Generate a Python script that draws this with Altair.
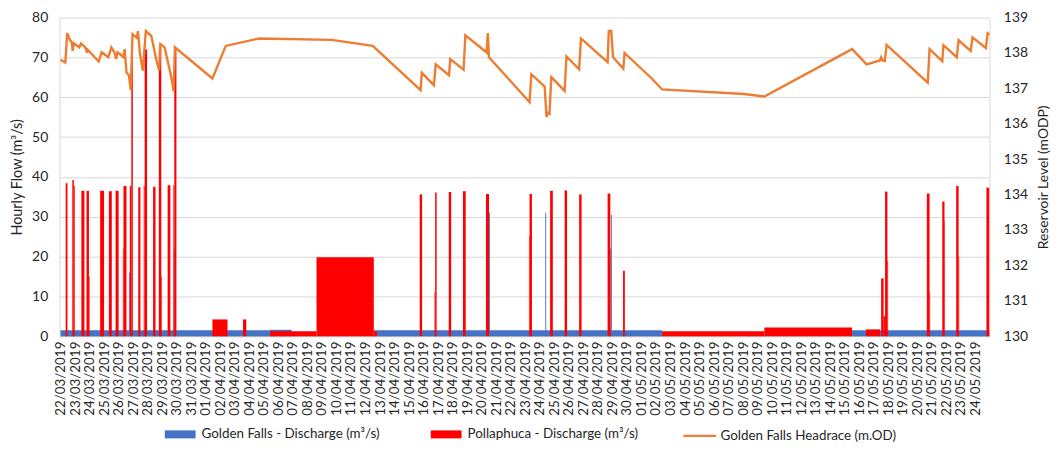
import altair as alt
import pandas as pd

GF = "Golden Falls  - Discharge (m³/s)"
PP = "Pollaphuca - Discharge  (m³/s)"
HR = "Golden Falls Headrace (m.OD)"

# Golden Falls discharge (hourly columns, grouped into constant runs)
gf_start = ["2019-03-22T00:00", "2019-04-05T10:00", "2019-04-12T13:40", "2019-05-15T12:00",
            "2019-03-26T17:00", "2019-03-27T09:30", "2019-03-29T19:00", "2019-04-20T12:00",
            "2019-04-24T09:00", "2019-04-28T21:30"]
gf_end = ["2019-04-05T10:00", "2019-04-06T22:00", "2019-05-02T10:00", "2019-05-24T23:00",
          "2019-03-26T18:30", "2019-03-27T11:00", "2019-03-29T20:30", "2019-04-20T13:30",
          "2019-04-24T10:30", "2019-04-28T23:00"]
gf_flow = [1.5, 1.6, 1.5, 1.5, 16, 25.8, 22, 31, 31, 30.4]

# Pollaphuca discharge (hourly columns, grouped into constant runs)
pp_start = ["2019-03-22T08:30", "2019-03-22T19:30", "2019-03-22T22:00", "2019-03-23T10:30",
            "2019-03-23T19:00", "2019-03-23T23:00", "2019-03-24T17:30", "2019-03-25T08:00",
            "2019-03-25T19:00", "2019-03-26T07:00", "2019-03-26T08:00", "2019-03-26T18:30",
            "2019-03-26T21:00", "2019-03-27T08:30", "2019-03-27T17:30", "2019-03-27T19:00",
            "2019-03-28T09:00", "2019-03-28T18:30", "2019-03-28T22:30", "2019-03-29T09:00",
            "2019-03-29T18:30", "2019-03-29T20:00",
            "2019-04-01T11:00", "2019-04-03T13:30", "2019-04-05T10:00", "2019-04-08T15:00",
            "2019-04-12T13:40",
            "2019-04-15T17:30", "2019-04-16T18:00", "2019-04-16T19:00", "2019-04-17T17:30",
            "2019-04-18T17:00", "2019-04-20T07:00", "2019-04-23T06:00", "2019-04-23T07:00",
            "2019-04-24T17:00", "2019-04-25T17:00", "2019-04-26T17:00", "2019-04-28T16:00",
            "2019-04-28T20:30", "2019-04-29T17:30",
            "2019-05-02T10:00", "2019-05-09T11:00", "2019-05-16T11:00", "2019-05-17T12:00",
            "2019-05-17T16:00", "2019-05-17T18:30", "2019-05-17T22:20", "2019-05-20T15:30",
            "2019-05-20T20:00", "2019-05-21T17:00", "2019-05-21T20:40", "2019-05-22T16:00",
            "2019-05-22T20:00", "2019-05-24T18:00"]
pp_end = ["2019-03-22T11:30", "2019-03-22T22:00", "2019-03-22T23:30", "2019-03-23T15:30",
          "2019-03-23T23:00", "2019-03-24T00:00", "2019-03-25T00:00", "2019-03-25T12:45",
          "2019-03-26T00:00", "2019-03-26T08:00", "2019-03-26T13:00", "2019-03-26T21:00",
          "2019-03-26T23:30", "2019-03-27T12:00", "2019-03-27T19:00", "2019-03-27T23:00",
          "2019-03-28T13:00", "2019-03-28T22:30", "2019-03-28T23:30", "2019-03-29T13:30",
          "2019-03-29T20:00", "2019-03-29T23:30",
          "2019-04-02T12:00", "2019-04-03T19:00", "2019-04-08T15:00", "2019-04-12T13:40",
          "2019-04-12T19:00",
          "2019-04-15T21:30", "2019-04-16T19:00", "2019-04-16T21:30", "2019-04-17T21:30",
          "2019-04-18T21:30", "2019-04-20T12:00", "2019-04-23T07:00", "2019-04-23T11:00",
          "2019-04-24T21:30", "2019-04-25T21:00", "2019-04-26T21:00", "2019-04-28T20:30",
          "2019-04-28T21:30", "2019-04-29T20:30",
          "2019-05-09T11:00", "2019-05-15T12:00", "2019-05-17T10:00", "2019-05-17T16:00",
          "2019-05-17T18:30", "2019-05-17T22:20", "2019-05-17T23:30", "2019-05-20T20:00",
          "2019-05-20T21:00", "2019-05-21T20:40", "2019-05-21T21:30", "2019-05-22T20:00",
          "2019-05-22T21:00", "2019-05-24T22:30"]
pp_flow = [38.4, 39.2, 37.8, 36.5,
           36.5, 15, 36.5, 36.4,
           36.5, 22, 37.7, 37.7,
           72, 37.4, 37.7, 72,
           37.5, 72.5, 15, 37.9,
           37.9, 72,
           4.2, 4.2, 1.2, 19.8,
           1.2,
           35.6, 11, 36.1, 36.2,
           36.4, 35.7, 25, 35.7,
           36.5, 36.6, 35.6, 35.8,
           22, 16.4,
           1.2, 2.2, 1.7, 14.5,
           5, 36.3, 19, 35.8,
           11, 33.8, 29, 37.7,
           20, 37.3]

# Golden Falls headrace level (m.OD), line vertices
level_time = ["2019-03-22T00:00", "2019-03-22T08:00", "2019-03-22T11:00", "2019-03-22T16:00",
              "2019-03-22T19:00", "2019-03-22T20:00", "2019-03-22T22:00", "2019-03-23T07:00",
              "2019-03-23T10:00", "2019-03-23T17:00", "2019-03-23T20:00", "2019-03-23T21:00",
              "2019-03-24T15:00", "2019-03-24T20:00", "2019-03-25T00:00", "2019-03-25T07:00",
              "2019-03-25T12:00", "2019-03-25T17:00", "2019-03-25T20:00", "2019-03-25T22:00",
              "2019-03-26T02:00", "2019-03-26T08:00", "2019-03-26T10:00", "2019-03-26T13:00",
              "2019-03-26T17:00", "2019-03-26T20:00", "2019-03-26T23:00", "2019-03-27T06:00",
              "2019-03-27T08:00", "2019-03-27T11:00", "2019-03-27T16:00", "2019-03-27T21:00",
              "2019-03-28T06:00", "2019-03-28T09:00", "2019-03-28T14:00", "2019-03-28T19:00",
              "2019-03-28T21:00", "2019-03-29T04:00", "2019-03-29T15:00", "2019-03-29T19:00",
              "2019-03-29T21:00", "2019-04-01T11:00", "2019-04-02T09:00", "2019-04-04T16:00",
              "2019-04-09T16:00", "2019-04-12T12:00", "2019-04-15T19:00", "2019-04-15T21:00",
              "2019-04-16T17:00", "2019-04-16T20:00", "2019-04-17T18:00", "2019-04-17T20:00",
              "2019-04-18T18:00", "2019-04-18T21:00", "2019-04-20T08:00", "2019-04-20T10:00",
              "2019-04-20T12:00", "2019-04-23T07:00", "2019-04-23T10:00", "2019-04-24T08:00",
              "2019-04-24T11:00", "2019-04-24T13:00", "2019-04-24T16:00", "2019-04-24T19:00",
              "2019-04-25T17:00", "2019-04-25T20:00", "2019-04-26T17:00", "2019-04-26T20:00",
              "2019-04-28T16:00", "2019-04-28T18:00", "2019-04-28T22:00", "2019-04-29T01:00",
              "2019-04-29T18:00", "2019-04-29T20:00", "2019-05-01T17:00", "2019-05-02T10:00",
              "2019-05-08T02:00", "2019-05-09T11:00", "2019-05-15T12:00", "2019-05-16T12:00",
              "2019-05-17T10:00", "2019-05-17T12:00", "2019-05-17T14:00", "2019-05-17T18:00",
              "2019-05-17T21:00", "2019-05-20T17:00", "2019-05-20T20:00", "2019-05-21T17:00",
              "2019-05-21T19:00", "2019-05-22T17:00", "2019-05-22T20:00", "2019-05-23T16:00",
              "2019-05-23T19:00", "2019-05-24T17:00", "2019-05-24T20:00", "2019-05-24T23:00"]
level_m = [137.81, 137.73, 138.56, 138.36,
           138.28, 138.06, 138.28, 138.16,
           138.27, 138.16, 138.00, 138.09,
           137.76, 138.02, 137.97, 137.88,
           138.16, 138.02, 137.83, 138.02,
           137.97, 137.88, 138.11, 137.45,
           137.37, 136.95, 138.53, 138.43,
           138.62, 138.02, 137.50, 138.62,
           138.48, 138.25, 137.83, 137.50,
           138.25, 138.16, 137.32, 136.92,
           138.16, 137.28, 138.20, 138.41,
           138.37, 138.20, 136.95, 137.44,
           137.09, 137.68, 137.37, 137.83,
           137.53, 138.50, 138.02, 138.56,
           137.88, 136.61, 137.40, 137.05,
           136.19, 136.31, 136.28, 137.32,
           136.93, 137.90, 137.54, 138.41,
           137.74, 138.62, 138.62, 137.88,
           137.56, 138.00, 137.28, 136.97,
           136.84, 136.77, 138.11, 137.68,
           137.79, 137.88, 137.79, 137.78,
           138.23, 137.16, 138.11, 137.77,
           138.22, 137.88, 138.36, 138.06,
           138.44, 138.14, 138.56, 138.52]

bars = pd.DataFrame({
    "start": gf_start + pp_start,
    "end": gf_end + pp_end,
    "flow": gf_flow + pp_flow,
    "series": [GF] * len(gf_start) + [PP] * len(pp_start),
})
line = pd.DataFrame({"time": level_time, "level": level_m, "series": [HR] * len(level_time)})

FONT = "Lato"
TXT = "#262626"

xscale = alt.Scale(domain=[alt.DateTime(year=2019, month=3, date=21, hours=22, minutes=30),
                           alt.DateTime(year=2019, month=5, date=24, hours=23)])
xaxis = alt.Axis(format="%d/%m/%Y", labelAngle=270, tickCount={"interval": "day", "step": 1},
                 labelOverlap=False, grid=False, ticks=False, domainColor="#BFBFBF",
                 labelFontSize=13.5, labelPadding=5, title=None, labelFont=FONT, labelColor=TXT)

bar_layer = alt.Chart(bars).mark_rect(strokeWidth=0).encode(
    x=alt.X("start:T", scale=xscale, axis=xaxis),
    x2="end:T",
    y=alt.Y("flow:Q", scale=alt.Scale(domain=[0, 80], nice=False),
            axis=alt.Axis(values=list(range(0, 81, 10)), grid=True, gridColor="#D9D9D9",
                          ticks=False, domainColor="#D9D9D9", labelFontSize=14, labelFont=FONT,
                          labelColor=TXT, labelPadding=12, title="Hourly Flow (m³/s)",
                          titleFont=FONT, titleFontSize=14.5, titleFontWeight="normal",
                          titleColor=TXT, titlePadding=7)),
    y2=alt.datum(0),
    fill=alt.Fill("series:N", scale=alt.Scale(domain=[GF, PP], range=["#4472C4", "#FF0000"]),
                  legend=alt.Legend(orient="none", legendX=106, legendY=404.5, direction="horizontal",
                                    title=None, symbolType="M-1,-0.26H1V0.26H-1Z", symbolSize=961,
                                    symbolStrokeWidth=0, labelFont=FONT, labelFontSize=13.5,
                                    labelColor=TXT, labelLimit=400, columnPadding=47,
                                    labelOffset=6)),
)

line_layer = alt.Chart(line).mark_line(strokeWidth=2.4).encode(
    x=alt.X("time:T", scale=xscale),
    y=alt.Y("level:Q", scale=alt.Scale(domain=[130, 139], nice=False),
            axis=alt.Axis(orient="right", values=list(range(130, 140)), grid=False, ticks=False,
                          domainColor="#D9D9D9", labelFontSize=14, labelFont=FONT, labelColor=TXT,
                          labelPadding=14, title="Reservoir Level (mODP)", titleFont=FONT,
                          titleFontSize=14, titleFontWeight="normal", titleColor=TXT,
                          titleAngle=270, titleBaseline="top", titlePadding=9)),
    stroke=alt.Stroke("series:N", scale=alt.Scale(domain=[HR], range=["#ED7D31"]),
                      legend=alt.Legend(orient="none", legendX=627, legendY=403.5, direction="horizontal",
                                        title=None, symbolType="stroke", symbolSize=1089,
                                        symbolStrokeWidth=2.4, labelFont=FONT, labelFontSize=13.5,
                                        labelColor=TXT, labelLimit=400, labelOffset=3)),
)

chart = alt.layer(bar_layer, line_layer).resolve_scale(y="independent").properties(
    width=937, height=321,
    autosize=alt.AutoSizeParams(type="none"),
    padding={"left": 52, "top": 8, "right": 62, "bottom": 105},
    background="white",
).configure_view(stroke=None)

chart.save("out.html", embed_options={"renderer": "svg", "actions": False})
